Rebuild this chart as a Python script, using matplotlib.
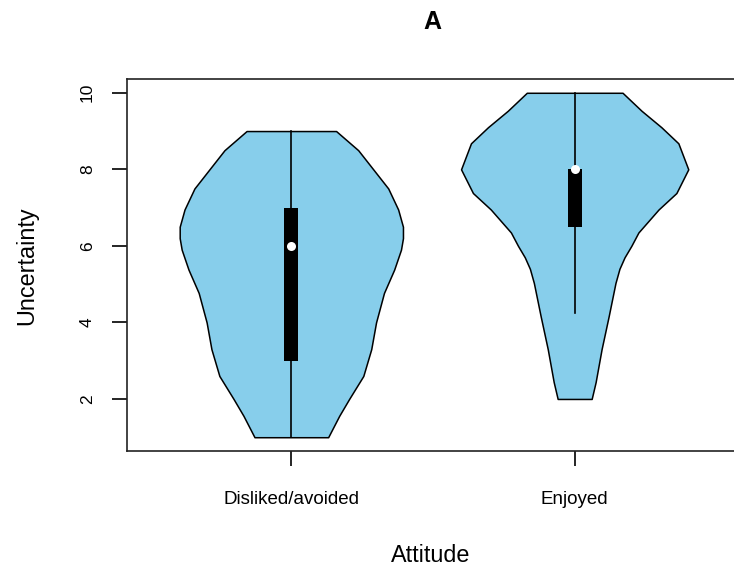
import numpy as np
import matplotlib
matplotlib.use("Agg")
import matplotlib.pyplot as plt

plt.rcParams["font.family"] = ["Liberation Sans", "DejaVu Sans"]

# Groups and summary stats
groups = ["Disliked/avoided", "Enjoyed"]
positions = [1, 2]
q1 = [3.0, 6.5]
q3 = [7.0, 8.0]
medians = [6.0, 8.0]
whisker_lo = [1.0, 4.25]
whisker_hi = [9.0, 10.0]

# Violin outlines: heights and half-widths (x-axis units)
dis_y = [1.0, 1.56, 2.0, 2.6, 3.3, 4.0, 4.77, 5.38, 5.9, 6.2, 6.5, 6.95, 7.5, 8.0, 8.5, 9.0]
dis_w = [0.130, 0.169, 0.204, 0.254, 0.282, 0.299, 0.327, 0.363, 0.387, 0.394,
         0.394, 0.377, 0.342, 0.289, 0.236, 0.158]
enj_y = [2.0, 2.44, 3.3, 4.16, 5.03, 5.4, 5.7, 6.0, 6.35, 6.95, 7.38, 8.0,
         8.68, 9.1, 9.53, 10.0]
enj_w = [0.060, 0.074, 0.095, 0.120, 0.144, 0.158, 0.176, 0.200, 0.225, 0.296,
         0.359, 0.401, 0.366, 0.306, 0.236, 0.169]

yticks = [2, 4, 6, 8, 10]

fig = plt.figure(figsize=(7.34, 5.69), dpi=100)
ax = fig.add_axes([127 / 734, 1 - 451 / 569, 612 / 734, 372 / 569])

shapes = [(dis_y, dis_w), (enj_y, enj_w)]
for i, (ys, ws) in enumerate(shapes):
    pos = positions[i]
    ys = np.array(ys)
    ws = np.array(ws)
    ax.fill_betweenx(ys, pos - ws, pos + ws, facecolor="#87CEEB",
                     edgecolor="black", linewidth=1.1, zorder=2)
    # whisker
    ax.plot([pos, pos], [whisker_lo[i], whisker_hi[i]], color="black",
            linewidth=1.2, zorder=3)
    # box
    ax.fill_between([pos - 0.025, pos + 0.025], q1[i], q3[i], color="black",
                    linewidth=0, zorder=4)
    # median
    ax.plot(pos, medians[i], "o", color="white", markersize=6.5,
            markeredgewidth=0, zorder=5)

ax.set_xlim(0.42, 2.58)
ax.set_ylim(0.64, 10.36)
ax.set_xticks(positions)
ax.set_xticklabels(groups, fontsize=13.5)
ax.set_yticks(yticks)
ax.set_yticklabels([str(t) for t in yticks], rotation=90, va="center", fontsize=12.5)
ax.tick_params(axis="x", length=11, width=1.2, pad=18)
ax.tick_params(axis="y", length=11, width=1.2, pad=12)
for s in ax.spines.values():
    s.set_linewidth(1.2)
    s.set_color("#222222")

fig.text(432 / 734, 1 - 22 / 569, "A", fontsize=18, fontweight="bold",
         ha="center", va="center")
fig.text(431 / 734, 1 - 555 / 569, "Attitude", fontsize=16.8,
         ha="center", va="center")
fig.text(27 / 734, 1 - 266 / 569, "Uncertainty", fontsize=16.8, rotation=90,
         ha="center", va="center")

fig.savefig("out.png", dpi=100)
